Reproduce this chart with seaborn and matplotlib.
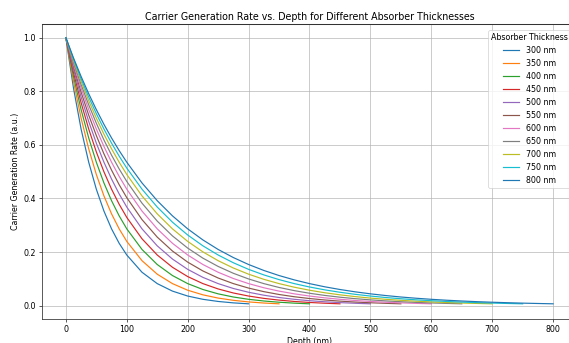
import numpy as np
import pandas as pd
import matplotlib
matplotlib.use("Agg")
import matplotlib.pyplot as plt
import seaborn as sns

plt.rcdefaults()

# ---- data ----
thickness_labels = ["300 nm", "350 nm", "400 nm", "450 nm", "500 nm", "550 nm",
                    "600 nm", "650 nm", "700 nm", "750 nm", "800 nm"]
# shared depth grid (nm); each curve runs from 0 to its absorber thickness
depth_grid = [0, 12.5, 25, 37.5, 50, 62.5, 75, 87.5, 100, 125, 150, 175, 200, 225,
              250, 275, 300, 325, 350, 375, 400, 425, 450, 475, 500, 525, 550, 575,
              600, 625, 650, 675, 700, 725, 750, 775, 800]

rate_300 = [1.0, 0.8120, 0.659, 0.5353, 0.4346, 0.3529, 0.2865, 0.2326, 0.1889,
            0.1245, 0.0821, 0.0541, 0.0357, 0.0235, 0.0155, 0.0102, 0.0067]
rate_350 = [1.0, 0.8365, 0.6997, 0.5853, 0.4895, 0.4095, 0.3425, 0.2865, 0.2397,
            0.1677, 0.1173, 0.0821, 0.0574, 0.0402, 0.0281, 0.0197, 0.0138, 0.0096,
            0.0067]
rate_400 = [1.0, 0.8553, 0.7316, 0.6258, 0.5353, 0.4578, 0.3916, 0.3350, 0.2865,
            0.2096, 0.1534, 0.1122, 0.0821, 0.0601, 0.0439, 0.0321, 0.0235, 0.0172,
            0.0126, 0.0092, 0.0067]
rate_450 = [1.0, 0.8703, 0.7575, 0.6592, 0.5738, 0.4994, 0.4346, 0.3783, 0.3292,
            0.2494, 0.1889, 0.1431, 0.1084, 0.0821, 0.0622, 0.0471, 0.0357, 0.0270,
            0.0205, 0.0155, 0.0117, 0.0089, 0.0067]
rate_500 = [1.0, 0.8825, 0.7788, 0.6873, 0.6065, 0.5353, 0.4724, 0.4169, 0.3679,
            0.2865, 0.2231, 0.1738, 0.1353, 0.1054, 0.0821, 0.0639, 0.0498, 0.0388,
            0.0302, 0.0235, 0.0183, 0.0143, 0.0111, 0.0087, 0.0067]
rate_550 = [1.0, 0.8926, 0.7967, 0.7111, 0.6348, 0.5665, 0.5057, 0.4513, 0.4029,
            0.3210, 0.2557, 0.2037, 0.1623, 0.1293, 0.1030, 0.0821, 0.0654, 0.0521,
            0.0415, 0.0331, 0.0264, 0.0210, 0.0167, 0.0133, 0.0106, 0.0085, 0.0067]
rate_600 = [1.0, 0.9011, 0.8120, 0.7316, 0.6592, 0.5940, 0.5353, 0.4823, 0.4346,
            0.3529, 0.2865, 0.2326, 0.1889, 0.1534, 0.1245, 0.1011, 0.0821, 0.0666,
            0.0541, 0.0439, 0.0357, 0.0290, 0.0235, 0.0191, 0.0155, 0.0126, 0.0102,
            0.0083, 0.0067]
rate_650 = [1.0, 0.9083, 0.8251, 0.7494, 0.6807, 0.6183, 0.5616, 0.5101, 0.4634,
            0.3823, 0.3154, 0.2602, 0.2147, 0.1771, 0.1462, 0.1206, 0.0995, 0.0821,
            0.0677, 0.0559, 0.0461, 0.0380, 0.0314, 0.0259, 0.0214, 0.0176, 0.0145,
            0.0120, 0.0099, 0.0082, 0.0067]
rate_700 = [1.0, 0.9146, 0.8365, 0.7650, 0.6997, 0.6399, 0.5853, 0.5353, 0.4895,
            0.4095, 0.3425, 0.2865, 0.2397, 0.2005, 0.1677, 0.1403, 0.1173, 0.0981,
            0.0821, 0.0687, 0.0574, 0.0480, 0.0402, 0.0336, 0.0281, 0.0235, 0.0197,
            0.0165, 0.0138, 0.0115, 0.0096, 0.0081, 0.0067]
rate_750 = [1.0, 0.9200, 0.8465, 0.7788, 0.7165, 0.6592, 0.6065, 0.5580, 0.5134,
            0.4346, 0.3679, 0.3114, 0.2636, 0.2231, 0.1889, 0.1599, 0.1353, 0.1146,
            0.0970, 0.0821, 0.0695, 0.0588, 0.0498, 0.0421, 0.0357, 0.0302, 0.0256,
            0.0216, 0.0183, 0.0155, 0.0131, 0.0111, 0.0094, 0.0080, 0.0067]
rate_800 = [1.0, 0.9248, 0.8553, 0.7910, 0.7316, 0.6766, 0.6258, 0.5787, 0.5353,
            0.4578, 0.3916, 0.3350, 0.2865, 0.2451, 0.2096, 0.1793, 0.1534, 0.1312,
            0.1122, 0.0960, 0.0821, 0.0702, 0.0601, 0.0514, 0.0439, 0.0376, 0.0321,
            0.0275, 0.0235, 0.0201, 0.0172, 0.0147, 0.0126, 0.0108, 0.0092, 0.0079,
            0.0067]

series = [rate_300, rate_350, rate_400, rate_450, rate_500, rate_550,
          rate_600, rate_650, rate_700, rate_750, rate_800]

rows = []
for label, vals in zip(thickness_labels, series):
    for d, v in zip(depth_grid, vals):
        rows.append({"Depth (nm)": d, "Rate": v, "Absorber Thickness": label})
df = pd.DataFrame(rows)

# ---- figure ----
W, H, DPI = 569, 343, 57
fig = plt.figure(figsize=(W / DPI, H / DPI), dpi=DPI)
ax = fig.add_axes([41.5 / W, 1 - 319 / H, (577.5 - 41.5) / W, (319 - 24.3) / H])

palette = sns.color_palette("tab10", len(thickness_labels))
sns.lineplot(data=df, x="Depth (nm)", y="Rate", hue="Absorber Thickness",
             hue_order=thickness_labels, palette=palette, linewidth=1.5,
             ax=ax, legend=True)

ax.set_xlim(-40, 840)
ax.set_ylim(-0.05, 1.05)
ax.set_xticks([0, 100, 200, 300, 400, 500, 600, 700, 800])
ax.set_yticks([0.0, 0.2, 0.4, 0.6, 0.8, 1.0])
ax.grid(True, color="#b0b0b0", linewidth=0.8)
for s in ax.spines.values():
    s.set_visible(True)
    s.set_color("#333333")
    s.set_linewidth(1.0)
ax.spines["top"].set_linewidth(1.3)
ax.set_title("Carrier Generation Rate vs. Depth for Different Absorber Thicknesses",
             fontsize=12)
ax.set_xlabel("Depth (nm)", fontsize=10)
ax.set_ylabel("Carrier Generation Rate (a.u.)", fontsize=10)

handles, labels = ax.get_legend_handles_labels()
ax.legend(handles, labels, title="Absorber Thickness", loc="upper left",
          bbox_to_anchor=(488 / W, 1 - 30 / H), bbox_transform=fig.transFigure,
          borderaxespad=0, fontsize=10, title_fontsize=10)

fig.savefig("out.png", dpi=DPI)
